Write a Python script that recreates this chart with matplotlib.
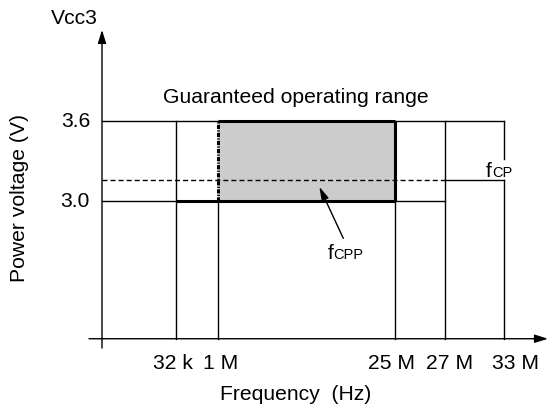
import matplotlib.pyplot as plt
from matplotlib.patches import Rectangle

plt.rcParams['font.family'] = ['Liberation Sans', 'DejaVu Sans']
plt.rcParams['lines.scale_dashes'] = False

# schematic frequency axis (not to scale), positions along x
freq_labels = ['32 k', '1 M', '25 M', '27 M', '33 M']
freq_pos = [74, 116, 293, 343, 402]
freq_label_x = [71, 119, 289, 348, 413]

# voltage levels (V)
v_low, v_high = 3.0, 3.6
v_fcp = 3.153
volt_ticks = [3.0, 3.6]
volt_labels = ['3.0', '3.6']
v_origin = 1.965

f32k, f1m, f25m, f27m, f33m = freq_pos

fig = plt.figure(figsize=(5.5, 4.11), dpi=100)
ax = fig.add_axes([0, 0, 1, 1])
ax.set_xlim(-102, 448)
ax.set_ylim(1.423, 4.5055)
ax.axis('off')

thin = 1.0
thick = 2.2
k = 'black'

# guaranteed range
ax.add_patch(Rectangle((f1m, v_low), f25m - f1m, v_high - v_low,
                       facecolor='#cccccc', edgecolor='none', zorder=1))

# thin grid lines
ax.plot([0, f33m], [v_high, v_high], color=k, lw=thin, zorder=2)
ax.plot([0, f27m], [v_low, v_low], color=k, lw=thin, zorder=2)
ax.plot([f32k, f32k], [v_origin, v_high], color=k, lw=thin, zorder=2)
ax.plot([f1m, f1m], [v_origin, v_low], color=k, lw=thin, zorder=2)
ax.plot([f25m, f25m], [v_origin, v_low], color=k, lw=thin, zorder=2)
ax.plot([f27m, f27m], [v_origin, v_high], color=k, lw=thin, zorder=2)
ax.plot([f33m, f33m], [3.313, v_high], color=k, lw=thin, zorder=2)
ax.plot([f33m, f33m], [v_origin, v_fcp], color=k, lw=thin, zorder=2)

# fCP level
ax.plot([0, f27m], [v_fcp, v_fcp], color=k, lw=thin, dashes=(3.6, 2.2), zorder=3)
ax.plot([f27m, f33m], [v_fcp, v_fcp], color=k, lw=thin, zorder=3)

# thick border of guaranteed range
ax.plot([f32k, f25m], [v_low, v_low], color=k, lw=thick, zorder=4,
        solid_capstyle='butt')
ax.plot([f1m, f25m], [v_high, v_high], color=k, lw=thick, zorder=4,
        solid_capstyle='butt')
ax.plot([f25m, f25m], [v_low, v_high], color=k, lw=thick, zorder=4,
        solid_capstyle='butt')
ax.plot([f1m, f1m], [v_low, v_high], color=k, lw=thick, zorder=4,
        dashes=(3.0, 1.0, 0.8, 1.0), dash_capstyle='butt')

# axes with arrows
head = dict(arrowstyle='-|>,head_length=0.8,head_width=0.25', color=k,
            lw=thin, mutation_scale=10, shrinkA=0, shrinkB=0)
ax.annotate('', xy=(0, 4.281), xytext=(0, 1.895), arrowprops=head, zorder=5)
ax.annotate('', xy=(446, v_origin), xytext=(-13, v_origin), arrowprops=head, zorder=5)

fs = 15.2
fs_small = 10.5
ax.text(-28, 4.325, 'Vcc3', ha='center', va='baseline', fontsize=fs)
for v, lab in zip(volt_ticks, volt_labels):
    ax.text(-12, v - 0.045, lab, ha='right', va='baseline', fontsize=fs)
for x, lab in zip(freq_label_x, freq_labels):
    ax.text(x, 1.7355, lab, ha='center', va='baseline', fontsize=fs)
ax.text(194, 1.505, 'Frequency  (Hz)', ha='center', va='baseline', fontsize=fs)
ax.text(-82, 3.02, 'Power voltage (V)', ha='center', va='center',
        rotation=90, fontsize=fs)
ax.text(193.5, 3.730, 'Guaranteed operating range', ha='center',
        va='baseline', fontsize=fs)

# fCP label
ax.text(384, 3.18, 'f', ha='left', va='baseline', fontsize=fs)
ax.text(390, 3.18, 'CP', ha='left', va='baseline', fontsize=fs_small)

# fCPP label with arrow
ax.text(225.3, 2.56, 'f', ha='left', va='baseline', fontsize=fs)
ax.text(231.3, 2.56, 'CPP', ha='left', va='baseline', fontsize=fs_small)
ax.annotate('', xy=(217.3, 3.105), xytext=(241.3, 2.718),
            arrowprops=dict(arrowstyle='-|>,head_length=0.8,head_width=0.22',
                            color=k, lw=thin, mutation_scale=10,
                            shrinkA=0, shrinkB=0), zorder=5)

fig.savefig('out.png', dpi=100)
